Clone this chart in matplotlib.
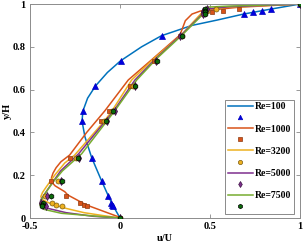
import matplotlib
matplotlib.use("Agg")
import matplotlib.pyplot as plt

# Benchmark points (Ghia et al.)
y_ref = [1.0, 0.9766, 0.9688, 0.9609, 0.9531, 0.8516, 0.7344, 0.6172, 0.5,
         0.4531, 0.2813, 0.1719, 0.1016, 0.0703, 0.0625, 0.0547, 0.0]
u_ref_100 = [1.0, 0.84123, 0.78871, 0.73722, 0.68717, 0.23151, 0.00332, -0.13641,
             -0.20581, -0.21090, -0.15662, -0.10150, -0.06434, -0.04775, -0.04192, -0.03717, 0.0]
u_ref_1000 = [1.0, 0.65928, 0.57492, 0.51117, 0.46604, 0.33304, 0.18719, 0.05702,
              -0.06080, -0.10648, -0.27805, -0.38289, -0.29730, -0.22220, -0.20196, -0.18109, 0.0]
u_ref_3200 = [1.0, 0.53236, 0.48296, 0.46547, 0.46101, 0.34682, 0.19791, 0.07156,
              -0.04272, -0.08636, -0.24427, -0.34323, -0.41933, -0.37827, -0.35344, -0.32407, 0.0]
u_ref_5000 = [1.0, 0.48223, 0.46120, 0.45992, 0.46036, 0.33556, 0.20087, 0.08183,
              -0.03039, -0.07404, -0.22855, -0.33050, -0.40435, -0.43643, -0.42901, -0.41165, 0.0]
u_ref_7500 = [1.0, 0.47244, 0.47048, 0.47323, 0.47167, 0.34228, 0.20591, 0.08342,
              -0.03800, -0.07503, -0.23176, -0.32393, -0.38324, -0.43025, -0.43590, -0.43154, 0.0]

# Simulated profiles
y_100 = [0, 0.03, 0.0547, 0.1016, 0.1719, 0.2813, 0.38, 0.4531, 0.5, 0.56, 0.6172,
         0.68, 0.7344, 0.80, 0.8516, 0.90, 0.925, 0.9531, 0.9766, 1.0]
u_100 = [0, -0.02, -0.037, -0.064, -0.1015, -0.157, -0.195, -0.211, -0.206, -0.18,
         -0.136, -0.07, 0.003, 0.12, 0.23, 0.40, 0.54, 0.687, 0.841, 1.0]

y_1000 = [0, 0.006, 0.061, 0.107, 0.123, 0.15, 0.17, 0.19, 0.21, 0.235, 0.263, 0.294,
          0.40, 0.50, 0.645, 0.746, 0.855, 0.922, 0.953, 0.967, 0.985, 1.0]
u_1000 = [0, -0.01, -0.187, -0.289, -0.307, -0.36, -0.382, -0.38, -0.372, -0.355,
          -0.328, -0.28, -0.185, -0.085, 0.046, 0.185, 0.333, 0.363, 0.40, 0.446, 0.66, 1.0]

y_3200 = [0, 0.012, 0.025, 0.045, 0.065, 0.085, 0.1, 0.12, 0.146, 0.2, 0.257, 0.294,
          0.45, 0.5, 0.645, 0.746, 0.855, 0.955, 0.975, 0.985, 1.0]
u_3200 = [0, -0.1, -0.2, -0.3, -0.38, -0.43, -0.44, -0.43, -0.409, -0.363, -0.307,
          -0.252, -0.09, -0.045, 0.065, 0.19, 0.34, 0.45, 0.47, 0.6, 1.0]

y_5000 = [0, 0.008, 0.025, 0.045, 0.065, 0.085, 0.11, 0.16, 0.22, 0.3, 0.5, 0.645,
          0.746, 0.855, 0.955, 0.975, 0.987, 1.0]
u_5000 = [0, -0.15, -0.3, -0.4, -0.445, -0.44, -0.42, -0.38, -0.33, -0.23, -0.035,
          0.083, 0.2, 0.34, 0.46, 0.47, 0.6, 1.0]

y_7500 = [0, 0.009, 0.022, 0.04, 0.06, 0.08, 0.11, 0.17, 0.22, 0.3, 0.5, 0.645,
          0.746, 0.855, 0.96, 0.985, 0.99, 1.0]
u_7500 = [0, -0.14, -0.326, -0.42, -0.445, -0.44, -0.42, -0.37, -0.32, -0.213, -0.03,
          0.093, 0.205, 0.345, 0.47, 0.48, 0.6, 1.0]

labels = ["Re=100", "Re=1000", "Re=3200", "Re=5000", "Re=7500"]
x_ticks = [-0.5, 0, 0.5, 1]
x_ticklabels = ["-0.5", "0", "0.5", "1"]
y_ticks = [0, 0.2, 0.4, 0.6, 0.8, 1]
y_ticklabels = ["0", "0.2", "0.4", "0.6", "0.8", "1"]

line_colors = ["#0072BD", "#D95319", "#EDB120", "#7E2F8E", "#77AC30"]
mk_face = ["#0000E0", "#D95319", "#EDB120", "#7E2F8E", "#0B6B0B"]
mk_edge = ["#0000C0", "#8B3A10", "#7A5A10", "#3A1040", "#000000"]
mk_shape = ["^", "s", "o", "d", "h"]
mk_size = [3.8, 3.2, 3.6, 3.6, 3.8]

plt.rcParams["font.family"] = ["Liberation Serif", "DejaVu Serif"]
plt.rcParams["font.weight"] = "bold"

fig = plt.figure(figsize=(3.04, 2.45), dpi=100)
ax = fig.add_axes([30/304, 1-218/245, 270/304, 214/245])

lines_u = [u_100, u_1000, u_3200, u_5000, u_7500]
lines_y = [y_100, y_1000, y_3200, y_5000, y_7500]
refs_u = [u_ref_100, u_ref_1000, u_ref_3200, u_ref_5000, u_ref_7500]

handles = []
leg_labels = []
for i in range(5):
    ln, = ax.plot(lines_u[i], lines_y[i], color=line_colors[i], lw=1.1, zorder=2)
    mk, = ax.plot(refs_u[i], y_ref, linestyle="none", marker=mk_shape[i],
                  markerfacecolor=mk_face[i], markeredgecolor=mk_edge[i],
                  markeredgewidth=0.5, markersize=mk_size[i], zorder=3)
    handles += [ln, mk]
    leg_labels += [labels[i], " "]

ax.set_xlim(-0.5, 1)
ax.set_ylim(0, 1)
ax.set_xticks(x_ticks)
ax.set_xticklabels(x_ticklabels)
ax.set_yticks(y_ticks)
ax.set_yticklabels(y_ticklabels)
ax.tick_params(direction="in", length=3, width=0.6, color="#888888",
               labelsize=7.5, top=True, right=True, pad=3)
for lbl in ax.get_xticklabels() + ax.get_yticklabels():
    lbl.set_fontweight("bold")
for sp in ax.spines.values():
    sp.set_color("#8c8c8c")
    sp.set_linewidth(0.7)

ax.set_xlabel("u/U", fontsize=7.5, fontweight="bold", labelpad=2)
ax.set_ylabel("y/H", fontsize=7.5, fontweight="bold", labelpad=1)

leg = ax.legend(handles, leg_labels, loc="lower right",
                bbox_to_anchor=(0.978, 0.0187), borderaxespad=0,
                frameon=True, fancybox=False, handlelength=2.6,
                handletextpad=0.25, labelspacing=0.22, borderpad=0.25,
                markerscale=0.85, prop={"weight": "bold", "size": 7})
leg.get_frame().set_edgecolor("#555555")
leg.get_frame().set_linewidth(0.6)

fig.savefig("out.png", dpi=100)
